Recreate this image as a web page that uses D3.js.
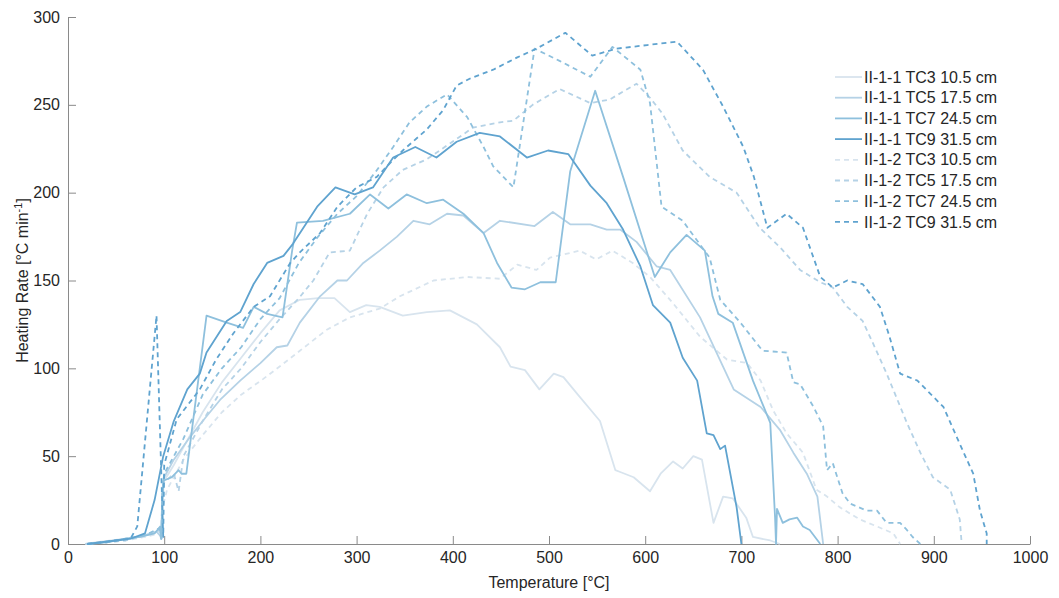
<!DOCTYPE html>
<html><head><meta charset="utf-8">
<script src="https://cdn.jsdelivr.net/npm/d3@7"></script>
<style>body{margin:0;background:#fff}svg{display:block}text{font-family:"Liberation Sans",Arial,sans-serif}</style>
</head><body><svg id="c" width="1059" height="598"></svg>
<script>
// ---- data: [temperature °C, heating rate °C/min] ----
const s11_TC3 = [[18,0],[30,1],[45,2],[60,3],[75,4],[88,6],[95,8],[97,3],[98,25],[100,36],[110,45],[120,55],[140,75],[160,92],[180,106],[200,120],[220,133],[241,139],[260,140],[277,140],[293,132],[310,136],[324,135],[348,130],[373,132],[397,133],[425,125],[449,112],[460,101],[475,99],[490,88],[505,97],[515,95],[530,85],[553,70],[569,42],[574,41],[588,38],[605,30],[616,40],[629,47],[639,43],[650,50],[659,48],[671,12],[681,27],[691,26],[705,15],[712,4],[730,2],[740,0]];
const s11_TC5 = [[18,0],[35,1],[50,2],[65,3],[80,5],[92,7],[97,4],[98,28],[100,38],[110,48],[127,61],[143,72],[158,82],[179,93],[200,103],[217,112],[228,113],[241,126],[262,141],[280,150],[290,150],[307,160],[324,167],[342,175],[359,184],[376,182],[394,188],[411,187],[432,177],[449,184],[485,181],[504,189],[522,182],[543,182],[560,179],[574,179],[591,172],[612,158],[626,156],[657,129],[692,88],[720,78],[740,65],[754,52],[768,40],[779,27],[785,0]];
const s11_TC7 = [[20,0],[40,1],[60,3],[75,4],[90,6],[96,10],[97,3],[99,36],[108,38],[115,42],[118,40],[123,40],[144,130],[165,126],[182,123],[193,135],[207,131],[223,129],[233,167],[238,183],[265,184],[293,188],[314,199],[333,191],[352,199],[373,194],[390,196],[411,188],[432,177],[446,160],[461,146],[475,145],[491,149],[507,149],[522,212],[548,258],[577,209],[610,152],[626,166],[643,176],[662,167],[670,141],[676,131],[691,126],[712,93],[730,69],[735,15],[736,0],[737,20],[743,12],[750,14],[758,15],[764,10],[771,8],[782,0]];
const s11_TC9 = [[20,0],[35,1],[50,2],[65,3],[80,6],[90,25],[99,50],[110,70],[124,88],[137,97],[144,109],[165,127],[179,132],[193,148],[207,160],[224,164],[234,171],[259,192],[278,203],[298,199],[317,203],[338,220],[361,226],[383,220],[404,229],[428,234],[449,232],[477,220],[499,224],[520,222],[543,204],[560,194],[577,179],[595,158],[608,136],[626,126],[639,106],[654,93],[664,63],[671,62],[678,54],[683,56],[695,21],[700,0]];
const s12_TC3 = [[20,0],[40,1],[60,2],[80,4],[95,6],[97,2],[98,20],[103,31],[120,48],[140,62],[160,75],[180,85],[203,94],[220,101],[241,110],[269,122],[293,129],[324,134],[345,141],[380,150],[415,152],[449,151],[467,159],[487,156],[501,163],[532,167],[549,162],[566,167],[587,160],[605,152],[629,137],[657,118],[685,105],[706,103],[720,93],[733,76],[747,63],[764,52],[778,31],[789,27],[802,21],[823,14],[841,10],[858,6],[865,0]];
const s12_TC5 = [[20,0],[40,1],[60,2],[80,5],[95,8],[97,3],[98,25],[100,35],[110,40],[115,30],[120,50],[140,70],[160,88],[180,100],[200,115],[220,128],[240,140],[255,150],[272,166],[293,167],[311,188],[328,203],[348,213],[373,219],[397,228],[421,237],[449,240],[463,241],[483,250],[511,259],[543,251],[563,253],[591,262],[605,254],[618,245],[639,224],[667,209],[695,200],[719,180],[740,169],[761,156],[782,149],[795,146],[810,135],[826,127],[837,114],[851,97],[872,69],[886,52],[899,38],[917,31],[927,14],[929,0]];
const s12_TC7 = [[20,0],[40,1],[60,3],[80,5],[95,9],[97,3],[98,30],[100,40],[120,60],[140,85],[160,100],[180,112],[200,128],[220,140],[240,160],[260,175],[280,188],[300,198],[320,212],[338,226],[355,240],[373,249],[394,256],[415,243],[432,226],[442,215],[463,203],[485,282],[511,275],[543,266],[566,283],[595,270],[605,251],[617,192],[639,184],[667,163],[678,139],[699,126],[722,110],[747,109],[754,92],[761,91],[775,78],[785,67],[789,42],[795,46],[805,29],[813,23],[830,19],[841,19],[851,12],[865,12],[872,8],[878,4],[886,0]];
const s12_TC9 = [[20,0],[35,1],[50,2],[65,3],[72,10],[92,130],[99,4],[100,45],[113,71],[137,88],[154,105],[172,120],[193,135],[210,141],[231,160],[241,166],[262,177],[280,192],[300,203],[321,209],[335,217],[348,224],[373,236],[390,247],[404,261],[418,265],[442,270],[467,277],[487,282],[517,291],[545,278],[570,282],[602,284],[633,286],[660,270],[681,249],[702,226],[713,209],[727,180],[747,188],[764,180],[782,152],[795,146],[810,150],[826,148],[844,135],[854,118],[865,97],[883,93],[910,78],[927,57],[941,40],[948,19],[955,6],[955,0]];

const seriesNames = ["II-1-1 TC3 10.5 cm","II-1-1 TC5 17.5 cm","II-1-1 TC7 24.5 cm","II-1-1 TC9 31.5 cm","II-1-2 TC3 10.5 cm","II-1-2 TC5 17.5 cm","II-1-2 TC7 24.5 cm","II-1-2 TC9 31.5 cm"];
const seriesData = [s11_TC3,s11_TC5,s11_TC7,s11_TC9,s12_TC3,s12_TC5,s12_TC7,s12_TC9];
const xTicks = [0,100,200,300,400,500,600,700,800,900,1000];
const yTicks = [0,50,100,150,200,250,300];

const colors = ["#d8e4ee","#b5d2e6","#8ec0dd","#5fa3cf"];
const svg = d3.select("#c");
const m = {l:68, r:1030, t:17, b:544};
const x = d3.scaleLinear().domain([0,1000]).range([m.l, m.r]);
const y = d3.scaleLinear().domain([0,300]).range([m.b, m.t]);

const textCol = "#262626", axisCol = "#8a8a8a";

// axes
const gx = svg.append("g").attr("transform",`translate(0,${m.b})`)
  .call(d3.axisBottom(x).tickValues(xTicks).tickFormat(d3.format("d")).tickSizeInner(-8).tickSizeOuter(0).tickPadding(8));
const gy = svg.append("g").attr("transform",`translate(${m.l},0)`)
  .call(d3.axisLeft(y).tickValues(yTicks).tickFormat(d3.format("d")).tickSizeInner(-8).tickSizeOuter(0).tickPadding(8));
[gx,gy].forEach(g=>{
  g.selectAll("path,line").attr("stroke",axisCol).attr("stroke-width",1);
  g.selectAll("text").attr("fill",textCol).style("font-size","16px");
});

// lines
const line = d3.line().x(d=>x(d[0])).y(d=>y(d[1]));
const order = [0,4,1,5,2,6,3,7];
order.forEach(i=>{
  svg.append("path").datum(seriesData[i])
    .attr("fill","none")
    .attr("stroke",colors[i%4])
    .attr("stroke-width",1.8)
    .attr("stroke-linejoin","round")
    .attr("stroke-dasharray", i>=4 ? "5,4" : null)
    .attr("d",line);
});

// axis titles
svg.append("text").attr("x",(m.l+m.r)/2).attr("y",588).attr("text-anchor","middle")
  .attr("fill",textCol).style("font-size","16px").text("Temperature [°C]");
const yt = svg.append("text").attr("transform",`translate(28,${(m.t+m.b)/2}) rotate(-90)`)
  .attr("text-anchor","middle").attr("fill",textCol).style("font-size","16px");
yt.append("tspan").text("Heating Rate [°C min");
yt.append("tspan").attr("dy","-6").style("font-size","11px").text("-1");
yt.append("tspan").attr("dy","6").text("]");

// legend
const lg = svg.append("g");
seriesNames.forEach((n,i)=>{
  const yy = 77 + i*20.7;
  lg.append("line").attr("x1",835).attr("x2",862).attr("y1",yy).attr("y2",yy)
    .attr("stroke",colors[i%4]).attr("stroke-width",1.8)
    .attr("stroke-dasharray", i>=4 ? "5,4" : null);
  lg.append("text").attr("x",864).attr("y",yy).attr("dy","0.35em")
    .attr("fill",textCol).style("font-size","16px").text(n);
});
</script></body></html>
